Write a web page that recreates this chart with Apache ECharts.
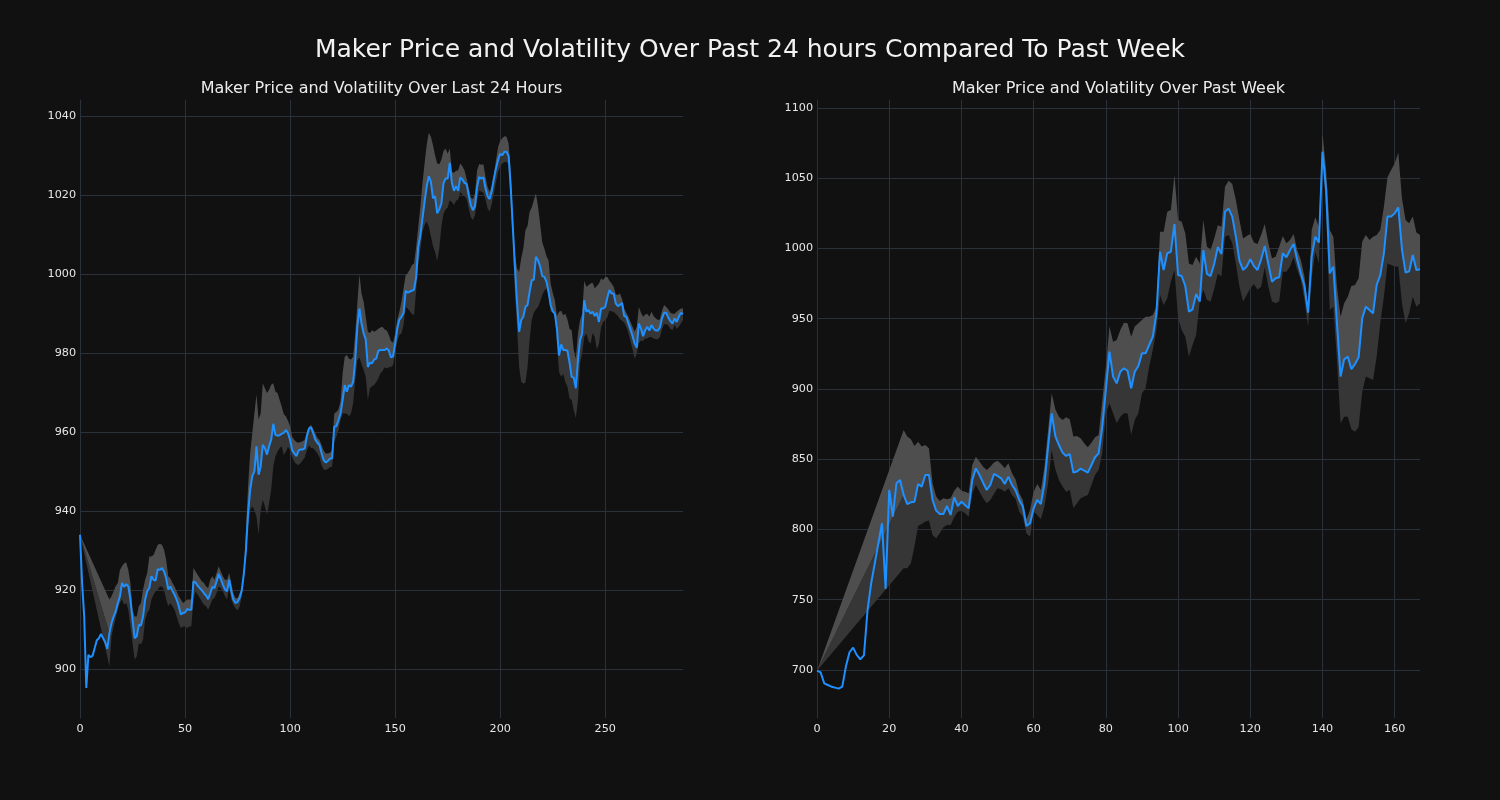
<!DOCTYPE html>
<html><head><meta charset="utf-8">
<script src="https://cdn.jsdelivr.net/npm/echarts@6/dist/echarts.min.js"></script>
<style>html,body{margin:0;padding:0;background:#111111;}#c{width:1500px;height:800px;}</style>
</head><body><div id="c"></div>
<script>
// ---- Last 24 hours (5-minute steps) ----
const dayPrice = [934,921.8,913.3,895.2,903.6,903,903.4,905.3,907.3,907.8,908.9,907.8,906.8,905.1,909.1,911.6,913.3,914.6,916.7,918.4,
921.8,920.8,921.5,920.9,917.6,912.5,907.8,908.3,911.2,911,913.3,917.6,919.7,920.5,923.5,922.6,922.4,925.3,925.1,925.6,
924.7,923,920.1,920.9,919.8,918.8,917.6,915.9,913.8,914.2,914.3,915.2,915,915,922.2,921.9,921.1,920.5,919.9,919.2,
918.6,917.7,919.2,920.8,920.5,922.2,924.1,922.8,921.4,920.1,919.7,922.6,919.7,917.6,916.7,917,918,919.9,924.3,930.2,
939.5,945.4,948.9,950,956.4,949.2,951.3,956.8,955.9,954.3,956.4,958.1,962.1,959.3,959.1,959.2,959.6,959.8,960.5,959.7,
958,955.4,954.6,953.9,955.3,955.6,955.6,955.9,959,960.9,961.2,959.7,958.1,957.3,956.7,954.6,952.9,952.3,952.7,953.3,
953.3,961.4,961.5,963,964.7,968.1,971.9,970.2,971.9,971.5,972.7,978.2,986.7,991.3,987.5,985,983.5,976.5,977.6,977.4,
978.4,978.6,980.6,980.8,980.8,980.8,981.2,980.6,978.9,979.2,982.4,986.2,988.5,989.2,990.2,995.8,995.3,995.6,995.8,996.1,
999.3,1006.9,1009.9,1014.1,1018.3,1022.1,1024.8,1023.4,1019.2,1019.7,1015.4,1016.4,1017.9,1023,1024.2,1024.2,1028.2,1023.1,1021.1,1022.3,
1021.1,1024.5,1024,1023.1,1022.8,1020,1017.5,1016.2,1017.2,1022.1,1024.6,1024.2,1024.5,1021.7,1019.7,1019,1021.1,1024.2,1026.8,1028.9,
1030.5,1030.1,1031,1031,1029.9,1022.1,1012,1001.9,993,985.4,988.4,989.2,991.7,992.2,995.5,998.5,998.6,1004.4,1003.5,1001.9,
999.5,999.3,998.1,995.5,992.2,990.6,990,986.2,979.4,982.2,980.8,980.8,980.6,977.6,974,973.8,971.1,978.2,983.3,985,
993.4,990.5,990.9,990,990.5,989.4,990.2,987.9,991.3,991.3,991.7,994.1,996,995.1,995.1,992.6,991.9,992.2,992.7,989.4,
989.2,987.5,986,984.3,982.4,981.4,987.5,986.2,984.3,985.8,986.7,985.7,987.1,986.2,985.7,985.7,986.5,988.8,990.2,990.2,
989,988.1,987.5,988.8,987.9,989.2,990.2,989.9];
const dayUpper = [934,null,null,null,null,null,null,null,null,null,null,null,null,null,917.6,918.4,919.7,921,921.8,925.1,
926,926.8,927,925.1,921.8,915,913.3,913.3,915.9,916.7,920.1,922.6,924.3,928.5,928.5,928.9,930.2,931.5,931.7,931.5,
930.2,927.7,923.5,923,921.8,920.9,919.7,918.4,917.6,916.7,917.1,917.6,917.6,917.6,925.6,924.7,923.9,923,922.2,921.8,
920.9,920.5,922.6,923.5,922.6,924.3,926,924.7,923.5,922.6,922.6,924.3,921.8,919.2,918,918,919.2,920.9,925.1,935.3,
946.2,954.7,959.7,964.8,969.5,963.1,964.8,972.4,971.1,969.9,970.7,972,972.4,970.3,969.9,968.2,966.5,964.5,964,962.9,
961.4,958.8,958,957.5,957.3,957.5,957.7,958.1,960.1,961.4,961.8,960.7,959.7,958.6,958,956.7,955.3,954.6,954.6,954.8,
955.4,964.7,965.1,965.7,967.7,974.9,979.1,979.5,978.6,978.4,979.1,985,992.6,1000,995.1,993,989.2,985.4,985.1,985.8,
985.4,985.7,986.2,986.5,986.7,986,985.7,984.6,983.1,982.6,985,988.4,990.5,993,996.4,999.7,1000.3,1001.2,1002.3,1002.7,
1006.9,1012,1017,1023,1028,1032.7,1035.8,1034.8,1032.7,1030.1,1028,1027.8,1029,1031.2,1031.8,1030.5,1031.8,1025.9,1025.7,1026.2,
1026.3,1028,1027.3,1026.3,1024.2,1021.9,1019.4,1019,1020.4,1026.3,1027.9,1027.7,1027.8,1024.6,1022.1,1020.8,1022.5,1025.1,1028.9,1032.2,
1033.8,1034.4,1034.9,1034.8,1033.1,1026.3,1014.5,1005.2,1001.4,1000.6,1004,1006.5,1011.1,1012.2,1015.8,1016.9,1018.7,1020.4,1017.1,1012.7,
1008.1,1006.5,1004.6,1003.5,997.6,995.3,993.4,989.4,990.5,990.7,989.6,990,988.5,986.2,985.8,980.8,978.6,985,988.4,990,
998.3,996.8,997.2,997.6,997.8,996.4,997,997.6,998.9,998.5,999.3,999.3,998.3,997.6,996.8,994.9,994.7,995.1,993.8,991.3,
990.2,989.2,987.9,986.7,985.4,986.7,991.7,990.2,989.2,989.8,990,989.2,990.5,989.4,988.8,988.4,988.5,990.7,992.2,991.7,
991.1,990.2,990,990,990.5,990.9,991.3,991.3];
const dayLower = [934,null,null,null,null,null,null,null,null,null,null,null,null,null,900.7,908.3,910.8,912.9,915,916.7,
917.6,916.3,916.7,915,910.8,906.6,902.4,903.2,906.6,906.2,907.4,912.5,914.2,915,917.6,918.8,919.7,920.1,920.9,920.9,
920.1,917.6,915.9,916.7,915.9,915,913.3,911.6,910.4,910.8,910.8,910.4,910.8,910.8,917.6,919.7,918.8,918,917.1,916.3,
915.9,915,916.3,917.6,918,919.2,920.9,920.5,919.7,918.4,917.6,920.9,917.6,916.3,915.4,914.9,915.9,918.4,922.2,928.5,
936.1,940.3,941.2,940.3,938.6,934,940.3,942.9,941.2,939.1,942,945.4,951.3,953.8,955.1,955.9,956.4,954.2,955,956.3,
955.4,953.6,952.5,951.9,951.6,952.2,952.9,953.6,955.4,956.7,956,955.9,955.3,954.6,953.6,951.6,950.5,950.4,950.7,951.1,
951.2,957.6,958.8,960.5,963,964.7,964.7,964.7,964,964.7,967.3,973.2,978.2,978.9,977.2,975.7,974,968.1,971.1,971.6,
971.9,972.7,973.6,974.9,975.5,976.4,976.1,976.4,976.5,976.9,979.9,982.9,984.6,985,987.1,991.7,991.3,990.6,990,989.6,
995.9,1002.7,1006.1,1010.7,1012.4,1013.4,1012,1009.6,1007.1,1005.7,1003.3,1006.5,1012,1015.2,1016.4,1016.9,1018.7,1018.3,1017.5,1018.6,
1018.9,1020.8,1020.2,1019.7,1019.1,1016.6,1014.5,1013.7,1014.9,1018.7,1021.1,1020.9,1020.6,1018.9,1016.6,1015.8,1017.9,1020.4,1023.4,1025.9,
1027.2,1028,1028.4,1028.4,1027.8,1017,1008.6,995.1,986.7,976.5,972.7,972.3,972.5,976.5,983.3,988.4,990.2,991.1,991.7,993,
994.7,995.8,996.4,994.7,990.5,990.5,989,982.4,975.3,974,974.7,972.7,971.5,968.5,968.1,965.6,963.5,968.1,977.4,979.9,
984.1,985,983.1,982.4,985.1,984.1,980.9,982.4,986.5,987.9,988.4,989,990.7,990.6,990.4,990,989.4,988.6,988.2,987.7,
986.7,985.1,983.1,980.9,978.6,979.9,982.5,983.2,983.1,983.7,983.7,984.1,984.1,983.7,983.5,983.5,984.1,986,987.3,987.3,
987,986.2,985.8,987.1,986.2,986.7,987.5,988.4];
const dayXTicks = [0,50,100,150,200,250];
const dayYTicks = [900,920,940,960,980,1000,1020,1040];

// ---- Past week (hourly steps) ----
const weekPrice = [699.5,698.3,690.5,689.3,688.1,687.4,686.7,688.1,702.4,712.6,715.9,710.7,707.6,710.4,742.7,761.7,775.9,790.2,804.4,757.7,
828.1,809.1,832.9,835.2,824.6,818.1,819.3,819.8,832.4,830.5,838.8,838.8,821,813.4,811,811,816.7,810.3,822.9,816.7,
819.8,817.4,815.1,835.2,843.5,838.8,833.3,828.1,831.7,839.5,838.1,836.4,832.4,837.6,831.7,827.8,821,816.3,802.5,804.4,
815.1,821,818.1,832.9,859,882.7,866.5,860.1,854.7,852.3,853.7,840.5,841.2,843.3,841.9,840.5,845.9,851.4,854.2,873.2,
899.3,926.6,908.8,904,912.3,914.7,913,900.5,912.3,916.4,925.4,925.4,931.3,937.2,953.9,997.7,984.7,996.6,997.7,1017.4,
981.1,980.4,973.3,955,956.7,967.6,962.2,998.9,981.9,980.4,989,1001,996.1,1026.2,1028.4,1022.7,1008.4,991.1,984.7,987.1,
992.3,987.5,984.7,992.3,1001.8,989,976.4,978.8,979.5,996.6,993.7,998.9,1003.2,991.8,982.3,973.3,954.3,994.2,1008.4,1004.2,
1068.9,1041.6,982.3,987.1,946.7,908.8,921.1,923,914,917.8,922.5,950.3,958.6,956.2,953.9,974,981.1,996.6,1022.7,1022.7,
1025,1029.3,999.4,982.8,983.7,995.4,984.7,985.2];
const weekUpper = [699.5,null,null,null,null,null,null,null,null,null,null,null,null,null,null,null,null,null,null,null,
null,null,null,null,870.8,866.1,864.2,859.4,862.5,859,860.1,857.8,832.9,823.4,820.3,822.2,821.5,822.2,827.6,830.5,
827.6,826.9,825.7,845.9,851.8,848.3,844.7,842.3,844.7,847.6,849,846.6,843.5,847.1,840,835.5,826,821,807.2,813.9,
826.9,832.4,828.1,844.7,870.8,896.9,885.5,880.3,877.9,879.8,878.4,866.1,866.5,864.9,861.3,858.5,861.8,865.6,867.3,891.7,
915.9,944.4,933.7,934.9,942,947.2,946.7,937.2,944.4,946.7,949.1,951.5,951.5,952.7,958.6,1012,1012,1026.2,1027.4,1052.3,
1020.2,1019.1,1010.8,989.4,988.3,994.2,989.4,1020.2,1001.3,998.9,1007.2,1016.5,1015.5,1044,1048.3,1045.9,1034.5,1020.3,1007.2,1008.9,
1010.3,1004.2,1003.2,1009.6,1017.4,1003.7,993,994.2,1001.3,1008.9,1003.7,1006,1010.3,998.9,991.8,980,957,1013.2,1022.2,1015.5,
1082,1055.9,1013.2,1008.4,972.8,951.5,961,965.7,973.3,974,978.8,1004.9,1009.6,1006,1008.4,1009.6,1013.2,1029.8,1050.7,1055.9,
1060.6,1068.2,1035.7,1020.3,1017.9,1022.7,1011.3,1009.6];
const weekLower = [699.5,null,null,null,null,null,null,null,null,null,null,null,null,null,null,null,null,null,null,null,
null,null,null,null,772.4,772.4,775.9,787.8,802.5,803.9,805.6,806.3,796.1,793.7,797.3,801.5,803.2,803.2,808.7,812.7,
813.4,811.5,809.1,825.7,831.7,826.9,822.2,818.6,821,825.3,829.3,828.6,826.9,829.3,824.6,821.6,812.7,809.1,797.3,794.9,
812.7,810.3,807.2,816.3,832.9,856.6,842.8,835.2,830.5,826.9,828.1,815.1,818.6,822.2,823.4,824.6,831.7,838.8,842.3,854.2,
882.7,889.8,882.7,875.6,880.3,882.7,882.7,867.3,877.9,882.7,896.9,900.5,915.9,927.8,942,966.9,959.8,964.5,976.4,984.7,
950.3,942,937.2,923,931.3,938.4,962.2,970.5,963.3,962.2,971,982,980,1008.4,1009.6,1003.7,989.4,972.8,962.2,966.9,
971.6,974.7,970.9,972.8,986.6,972.8,962.2,961,962.2,983.5,983.5,987.1,993.7,984.7,977.6,963.3,944.4,978.8,997.7,989.4,
1066.5,1027.4,956.2,958.6,920.6,875.6,880.3,880.3,871.3,869.6,872.7,898.1,908.8,907.6,906.4,923,946.7,965.7,989.4,988.3,
987.1,987.1,961,946.7,953.9,965.7,958.6,961];
const weekXTicks = [0,20,40,60,80,100,120,140,160];
const weekYTicks = [700,750,800,850,900,950,1000,1050,1100];

const BG = '#111111', GRIDC = '#2a313b', TXT = '#e6e6e6', LINEC = '#1e90ff';
const BAND_UP = '#4e4e4e', BAND_DN = '#363636';
const FONT = '"DejaVu Sans", "Liberation Sans", sans-serif';

function pairs(a){ return a.map((v,i)=>[i,v]); }
// two fills: price..upper (lighter) and lower..price (darker), sampled where the band exists
function bandSeries(gi, price, upper, lower){
  const idx = [];
  upper.forEach((v,i)=>{ if (v!=null && lower[i]!=null) idx.push(i); });
  return {
    type:'custom', xAxisIndex:gi, yAxisIndex:gi, z:2, silent:true, animation:false,
    data:[[idx[0], upper[idx[0]]]],
    renderItem(params, api){
      const up = [], dn = [];
      for (const i of idx) up.push(api.coord([i, upper[i]]));
      for (let k=idx.length-1;k>=0;k--) up.push(api.coord([idx[k], price[idx[k]]]));
      for (const i of idx) dn.push(api.coord([i, price[i]]));
      for (let k=idx.length-1;k>=0;k--) dn.push(api.coord([idx[k], lower[idx[k]]]));
      return {type:'group', children:[
        {type:'polygon', shape:{points:dn}, style:{fill:BAND_DN}},
        {type:'polygon', shape:{points:up}, style:{fill:BAND_UP}}
      ]};
    }
  };
}
function lineSeries(gi, price, xt, yt){
  return {
    type:'line', xAxisIndex:gi, yAxisIndex:gi, z:3, data:pairs(price), showSymbol:false, symbol:'none',
    lineStyle:{color:LINEC, width:2}, silent:true, animation:false,
    markLine:{silent:true, z:1, animation:false, symbol:['none','none'], label:{show:false},
      lineStyle:{color:GRIDC, width:1, type:'solid'}, emphasis:{disabled:true},
      data:[...xt.filter(v=>v>0).map(v=>({xAxis:v})), ...yt.map(v=>({yAxis:v}))]}
  };
}
function xAx(gi, max, ticks){
  return {type:'value', gridIndex:gi, min:0, max:max, axisLine:{show:false}, axisTick:{show:false}, splitLine:{show:false},
    axisLabel:{customValues:ticks, formatter:v=>String(v), color:TXT, fontSize:11.2, fontFamily:FONT, margin:6}};
}
function yAx(gi, min, max, ticks){
  return {type:'value', gridIndex:gi, min:min, max:max, axisLine:{show:true, lineStyle:{color:GRIDC, width:1}}, axisTick:{show:false}, splitLine:{show:false},
    axisLabel:{customValues:ticks, formatter:v=>String(v), color:TXT, fontSize:11.2, fontFamily:FONT, margin:4}};
}

const chart = echarts.init(document.getElementById('c'), null, {renderer:'canvas'});
chart.setOption({
  backgroundColor: BG,
  animation:false,
  grid:[
    {left:80, top:100, width:603, height:618},
    {left:817, top:100, width:603, height:618}
  ],
  xAxis:[xAx(0, 287, dayXTicks), xAx(1, 167, weekXTicks)],
  yAxis:[yAx(0, 887.6, 1044.1, dayYTicks), yAx(1, 665.8, 1105.7, weekYTicks)],
  graphic:[
    {type:'text', x:750, y:50.5, silent:true, style:{text:'Maker Price and Volatility Over Past 24 hours Compared To Past Week', fill:'#f2f2f2', font:'25px '+FONT, align:'center', verticalAlign:'middle'}},
    {type:'text', x:381.5, y:89, silent:true, style:{text:'Maker Price and Volatility Over Last 24 Hours', fill:'#ececec', font:'16px '+FONT, align:'center', verticalAlign:'middle'}},
    {type:'text', x:1118.5, y:89, silent:true, style:{text:'Maker Price and Volatility Over Past Week', fill:'#ececec', font:'16px '+FONT, align:'center', verticalAlign:'middle'}}
  ],
  series:[
    bandSeries(0, dayPrice, dayUpper, dayLower),
    lineSeries(0, dayPrice, dayXTicks, dayYTicks),
    bandSeries(1, weekPrice, weekUpper, weekLower),
    lineSeries(1, weekPrice, weekXTicks, weekYTicks)
  ]
});
</script></body></html>
